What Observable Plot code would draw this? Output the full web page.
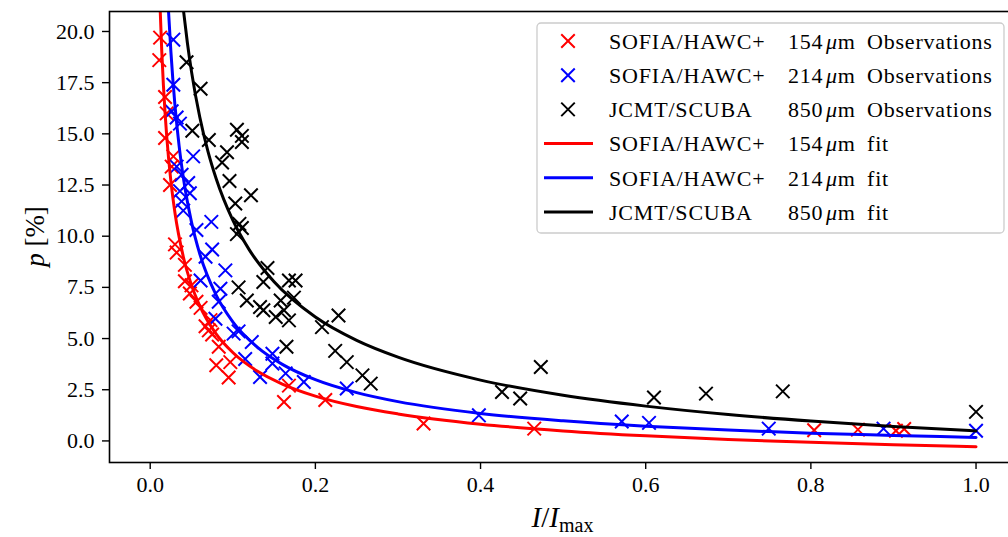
<!DOCTYPE html>
<html>
<head>
<meta charset="utf-8">
<script src="https://cdn.jsdelivr.net/npm/d3@7"></script>
<script src="https://cdn.jsdelivr.net/npm/@observablehq/plot@0.6"></script>
<style>
  html, body { margin: 0; padding: 0; background: #fff; overflow: hidden; }
  #chart { position: relative; width: 1008px; height: 537px; overflow: hidden; }
  #chart svg { max-width: none !important; }
</style>
</head>
<body>
<div id="chart"></div>
<script>
// Polarization fraction p versus normalized intensity I/Imax

// SOFIA/HAWC+ 154 um observations
const obs154X = [0.012, 0.011, 0.018, 0.020, 0.018, 0.028, 0.026, 0.024, 0.030, 0.032,
  0.042, 0.042, 0.050, 0.048, 0.056, 0.061, 0.067, 0.071, 0.075, 0.073,
  0.083, 0.080, 0.097, 0.095, 0.168, 0.162, 0.212, 0.331, 0.465, 0.804,
  0.857, 0.903, 0.913];
const obs154P = [19.7, 18.6, 16.8, 16.0, 14.8, 13.9, 13.4, 12.5, 9.6, 9.2,
  8.6, 7.8, 7.6, 7.2, 6.8, 6.5, 5.6, 5.4, 5.2, 5.9,
  4.6, 3.7, 3.85, 3.1, 2.7, 1.9, 2.0, 0.85, 0.6, 0.52,
  0.55, 0.5, 0.58];

// SOFIA/HAWC+ 214 um observations
const obs214X = [0.028, 0.028, 0.026, 0.032, 0.036, 0.052, 0.032, 0.038, 0.046, 0.036,
  0.048, 0.038, 0.040, 0.056, 0.074, 0.075, 0.067, 0.091, 0.061, 0.085,
  0.083, 0.079, 0.101, 0.107, 0.123, 0.115, 0.148, 0.148, 0.133, 0.164,
  0.186, 0.238, 0.398, 0.571, 0.604, 0.749, 0.888, 1.0];
const obs214P = [19.6, 17.4, 16.1, 15.8, 15.5, 13.9, 13.4, 13.0, 12.6, 12.2,
  12.1, 11.7, 11.25, 10.3, 10.7, 9.35, 9.0, 8.33, 7.84, 7.43,
  6.8, 5.97, 5.24, 5.35, 4.83, 4.0, 4.26, 3.78, 3.12, 3.3,
  2.88, 2.56, 1.25, 0.95, 0.88, 0.6, 0.6, 0.5];

// JCMT/SCUBA 850 um observations
const obs850X = [0.044, 0.061, 0.051, 0.071, 0.105, 0.111, 0.111, 0.093, 0.087, 0.096,
  0.122, 0.103, 0.108, 0.105, 0.111, 0.142, 0.137, 0.168, 0.176, 0.174,
  0.107, 0.117, 0.133, 0.137, 0.158, 0.162, 0.152, 0.168, 0.228, 0.208,
  0.165, 0.224, 0.238, 0.257, 0.267, 0.426, 0.448, 0.473, 0.610, 0.673,
  0.766, 1.0];
const obs850P = [18.5, 17.2, 15.15, 14.7, 15.2, 14.9, 14.6, 14.1, 13.6, 12.7,
  12.0, 11.6, 10.6, 10.1, 10.4, 8.45, 7.76, 7.84, 7.84, 7.0,
  7.5, 6.86, 6.54, 6.38, 6.86, 6.38, 6.05, 5.89, 6.13, 5.56,
  4.6, 4.4, 3.85, 3.2, 2.8, 2.39, 2.07, 3.61, 2.12, 2.31,
  2.42, 1.42];

// Fitted curves
const fit154X = [0.0121, 0.014, 0.016, 0.018, 0.02, 0.025, 0.03, 0.04, 0.05, 0.06, 0.08, 0.1,
  0.13, 0.16, 0.2, 0.25, 0.3, 0.4, 0.5, 0.6, 0.7, 0.8, 0.9, 1.0];
const fit154P = [21.04, 19.03, 17.36, 16.01, 14.87, 12.70, 11.13, 9.01, 7.61, 6.60, 5.22, 4.32,
  3.40, 2.78, 2.19, 1.68, 1.32, 0.82, 0.49, 0.25, 0.07, -0.07, -0.19, -0.28];

const fit214X = [0.0222, 0.025, 0.03, 0.035, 0.04, 0.05, 0.06, 0.08, 0.1, 0.13, 0.16, 0.2,
  0.25, 0.3, 0.4, 0.5, 0.6, 0.7, 0.8, 0.9, 1.0];
const fit214P = [20.97, 19.04, 16.38, 14.41, 12.89, 10.69, 9.14, 7.11, 5.82, 4.57, 3.74, 2.99,
  2.36, 1.92, 1.34, 0.98, 0.72, 0.53, 0.38, 0.27, 0.17];

const fit850X = [0.0404, 0.045, 0.05, 0.06, 0.07, 0.08, 0.1, 0.12, 0.15, 0.2, 0.25, 0.3,
  0.4, 0.5, 0.6, 0.7, 0.8, 0.9, 1.0];
const fit850P = [20.98, 19.45, 18.04, 15.82, 14.13, 12.79, 10.78, 9.33, 7.77, 6.05, 4.91, 4.09,
  2.97, 2.23, 1.70, 1.29, 0.97, 0.71, 0.49];

const xTicks = [0.0, 0.2, 0.4, 0.6, 0.8, 1.0];
const yTicks = [0.0, 2.5, 5.0, 7.5, 10.0, 12.5, 15.0, 17.5, 20.0];

const seriesColors = ["#ff0000", "#0000ff", "#000000"];
const seriesNames = ["SOFIA/HAWC+", "SOFIA/HAWC+", "JCMT/SCUBA"];
const seriesBands = ["154", "214", "850"];

const toRows = (xs, ps) => xs.map((x, i) => ({x, p: ps[i]}));
const obs = [toRows(obs154X, obs154P), toRows(obs214X, obs214P), toRows(obs850X, obs850P)];
const fits = [toRows(fit154X, fit154P), toRows(fit214X, fit214P), toRows(fit850X, fit850P)];

const FONT = "'Liberation Serif', 'DejaVu Serif', serif";

const chart = Plot.plot({
  width: 1016,
  height: 537,
  marginLeft: 109,
  marginRight: 0,
  marginTop: 11,
  marginBottom: 75,
  x: {domain: [-0.0493, 1.049]},
  y: {domain: [-1.054, 20.976]},
  style: {fontFamily: FONT, fontSize: "22px", color: "black", background: "white", maxWidth: "none"},
  marks: [
    ...obs.map((rows, i) => Plot.dot(rows, {
      x: "x", y: "p", symbol: "times", r: 6.2,
      stroke: seriesColors[i], strokeWidth: 2, clip: true
    })),
    ...fits.map((rows, i) => Plot.line(rows, {
      x: "x", y: "p", stroke: seriesColors[i], strokeWidth: 3,
      curve: "monotone-x", clip: true
    })),
    Plot.axisX({ticks: xTicks, tickFormat: d3.format(".1f"), tickSize: 7, tickPadding: 7,
      strokeWidth: 1.4, fontSize: 22, label: null}),
    Plot.axisY({ticks: yTicks, tickFormat: d3.format(".1f"), tickSize: 7, tickPadding: 8,
      strokeWidth: 1.4, fontSize: 22, label: null}),
    Plot.frame({stroke: "black", strokeWidth: 1.6})
  ]
});

chart.style.maxWidth = "none";
document.getElementById("chart").appendChild(chart);

const svg = d3.select(chart);

// Axis titles
const yTitle = svg.append("text")
  .attr("transform", "translate(44,236.5) rotate(-90)")
  .attr("text-anchor", "middle")
  .attr("font-family", FONT)
  .attr("font-size", 27)
  .attr("fill", "black");
yTitle.append("tspan").attr("font-style", "italic").text("p");
yTitle.append("tspan").text(" [%]");

const xTitle = svg.append("text")
  .attr("x", 562.5).attr("y", 527)
  .attr("text-anchor", "middle")
  .attr("font-family", FONT)
  .attr("font-size", 29)
  .attr("fill", "black");
xTitle.append("tspan").attr("font-style", "italic").text("I");
xTitle.append("tspan").text("/");
xTitle.append("tspan").attr("font-style", "italic").text("I");
xTitle.append("tspan").attr("font-size", 20).attr("dy", 5).text("max");

// Legend
const legend = svg.append("g")
  .attr("font-family", FONT).attr("font-size", 22).attr("text-anchor", "start");
legend.append("rect")
  .attr("x", 537).attr("y", 23).attr("width", 467).attr("height", 210)
  .attr("rx", 4).attr("fill", "white").attr("fill-opacity", 0.8)
  .attr("stroke", "#cccccc").attr("stroke-width", 1.3);

const rowY = i => 41 + 34.2 * i;
const timesPath = d3.symbol(d3.symbolTimes, Math.PI * 6.2 * 6.2)();

const entries = [];
for (let i = 0; i < 3; i++) entries.push({kind: "obs", i, word: "Observations"});
for (let i = 0; i < 3; i++) entries.push({kind: "fit", i, word: "fit"});

entries.forEach((e, k) => {
  const y = rowY(k);
  if (e.kind === "obs") {
    legend.append("path").attr("d", timesPath)
      .attr("transform", `translate(568,${y})`)
      .attr("fill", "none").attr("stroke", seriesColors[e.i]).attr("stroke-width", 2);
  } else {
    legend.append("line")
      .attr("x1", 544).attr("x2", 593).attr("y1", y).attr("y2", y)
      .attr("stroke", seriesColors[e.i]).attr("stroke-width", 3);
  }
  const t = legend.append("text").attr("y", y).attr("dy", "0.35em")
    .attr("text-anchor", "start")
    .attr("fill", "black").attr("letter-spacing", "0.8px");
  t.append("tspan").attr("x", 609).text(seriesNames[e.i]);
  t.append("tspan").attr("x", 788).text(seriesBands[e.i]);
  t.append("tspan").attr("x", 826).attr("font-style", "italic").text("\u03bc");
  t.append("tspan").text("m");
  t.append("tspan").attr("x", 867).text(e.word);
});
</script>
</body>
</html>
